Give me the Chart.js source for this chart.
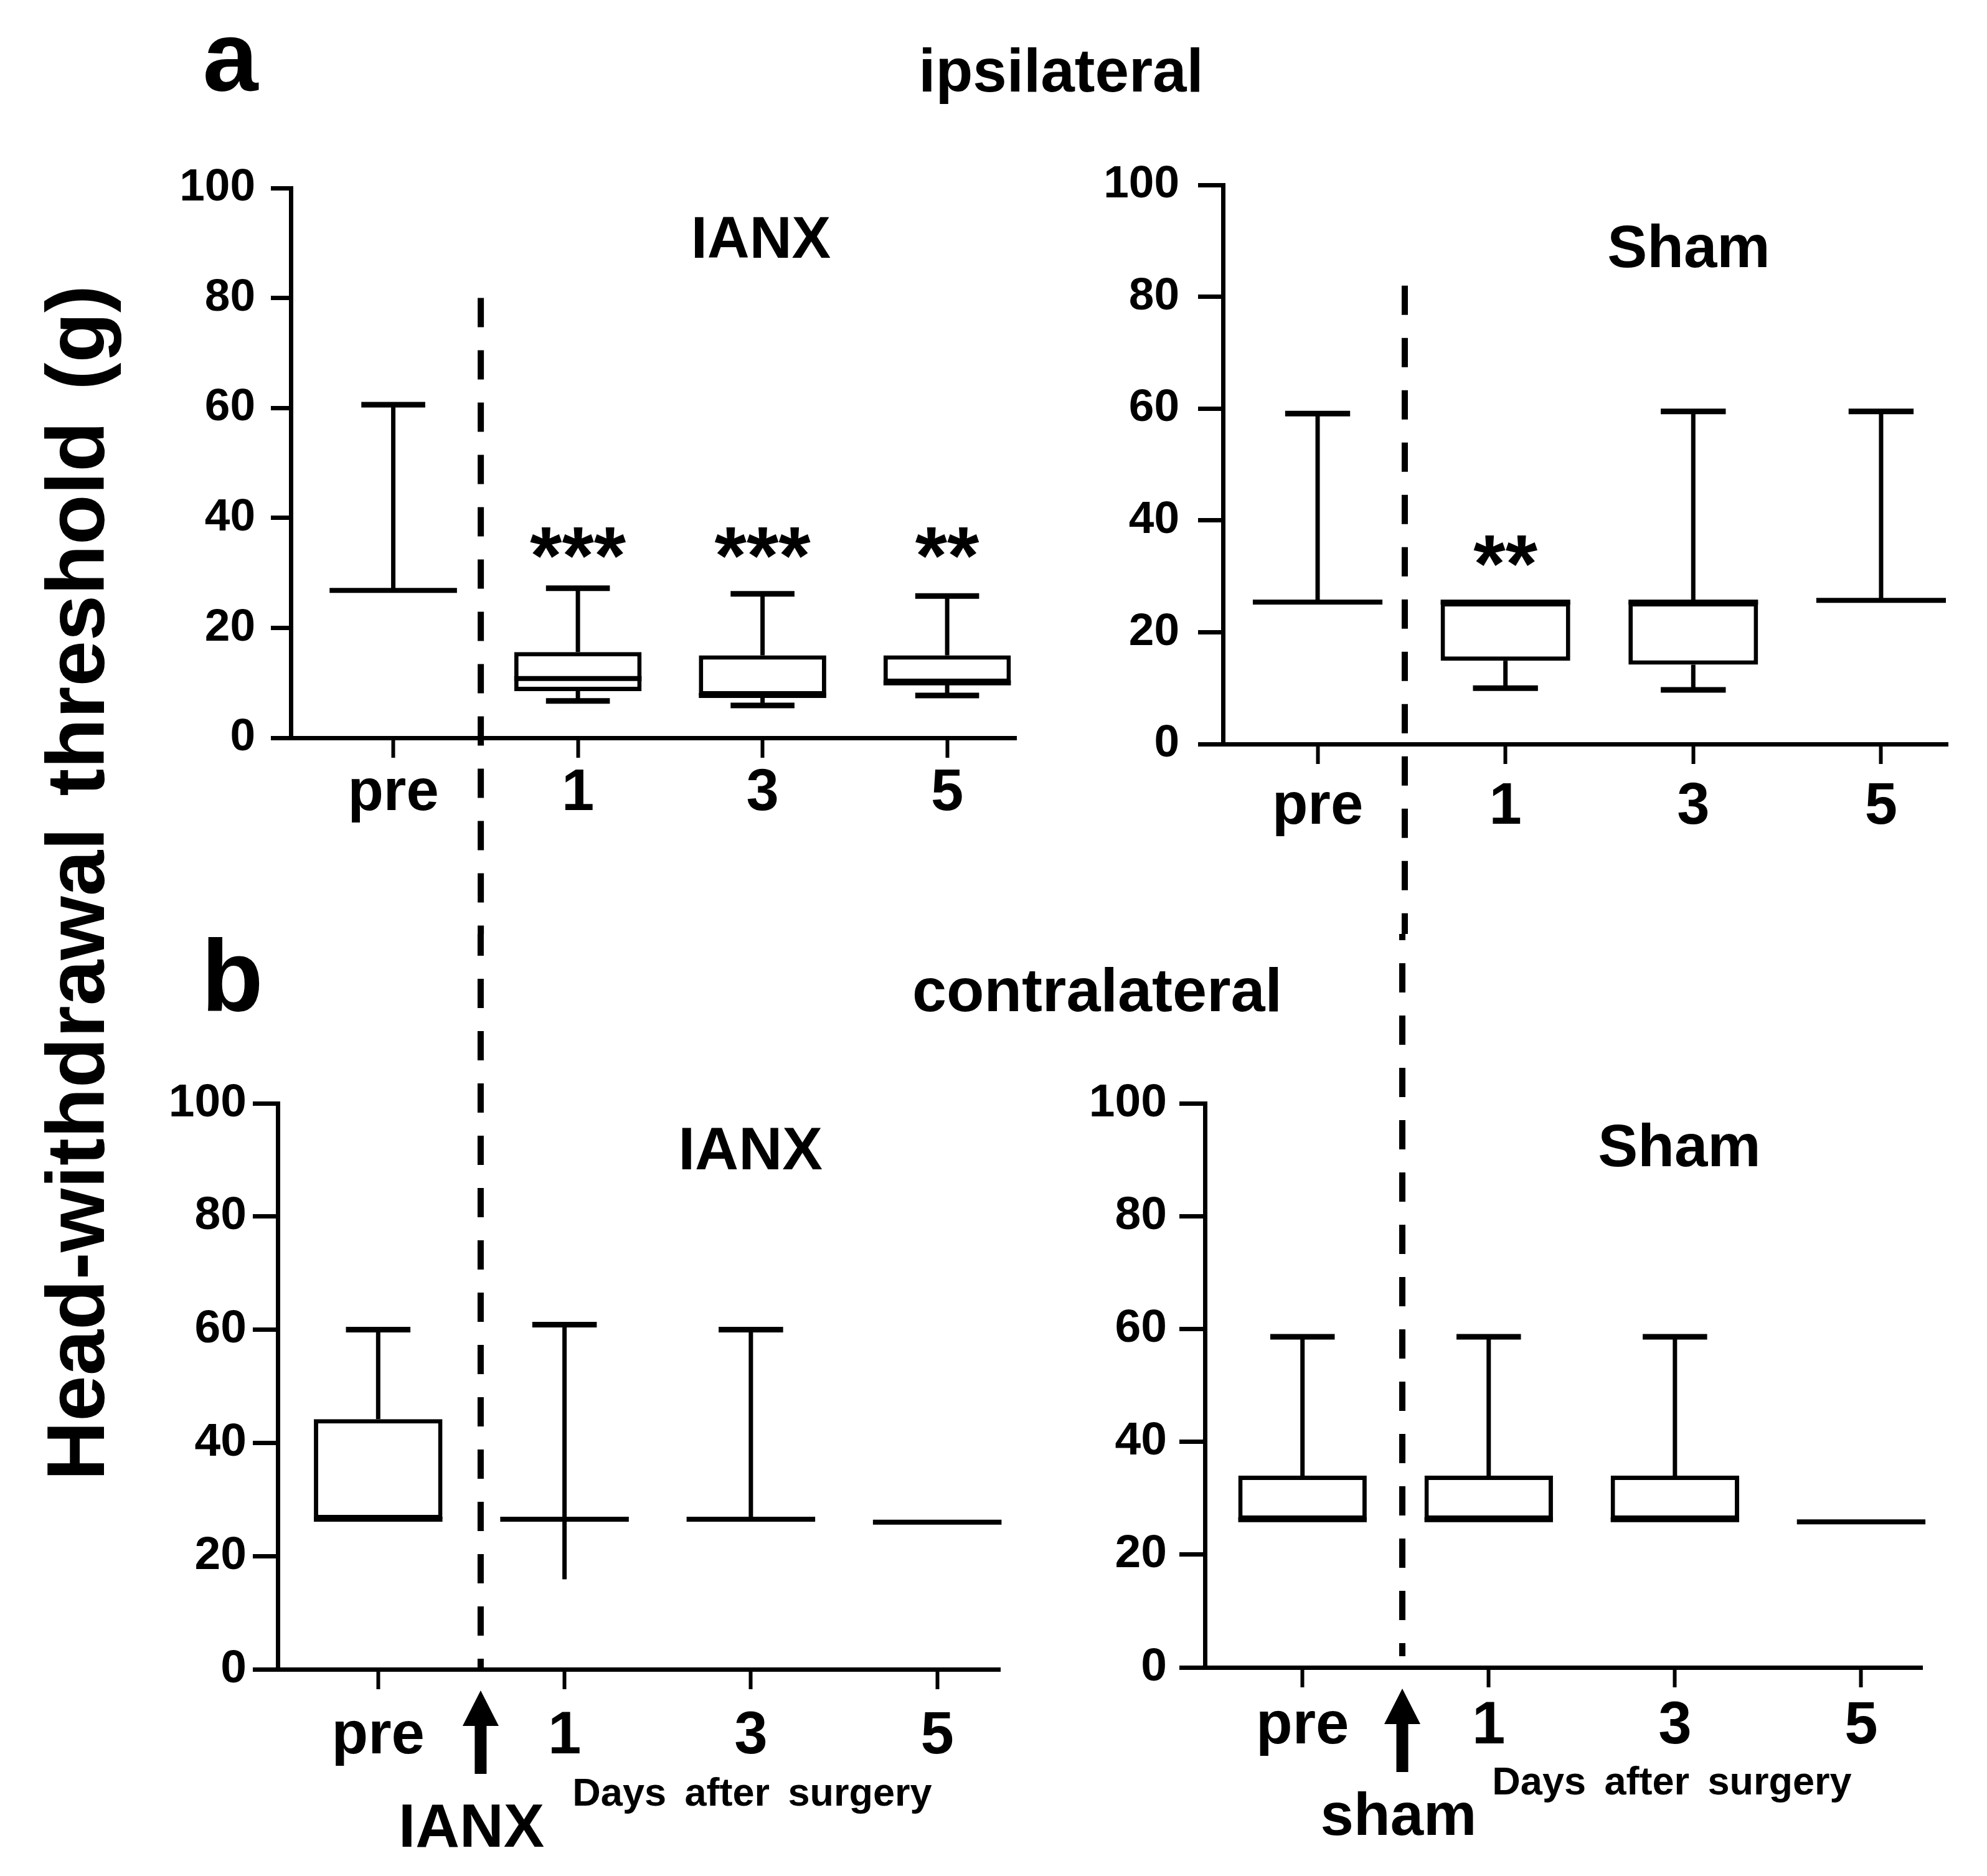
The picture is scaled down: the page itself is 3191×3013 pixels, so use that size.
<!DOCTYPE html>
<html>
<head>
<meta charset="utf-8">
<script src="https://cdn.jsdelivr.net/npm/chart.js@4.4.1/dist/chart.umd.min.js"></script>
<style>
html,body{margin:0;padding:0;background:#fff;}
#page{position:relative;width:3191px;height:3013px;overflow:hidden;background:#fff;}
#page canvas{position:absolute;}
.t{position:absolute;font-family:"Liberation Sans",Arial,Helvetica,sans-serif;font-weight:bold;color:#000;white-space:nowrap;line-height:1;text-align:center;width:2400px;}
</style>
</head>
<body>
<div id="page"></div>
<script>
// ---------------- DATA ----------------
const categories = ['pre', '1', '3', '5'];
const categoryPos = [0, 1, 2, 3];
const yTickValues = [0, 20, 40, 60, 80, 100];

// a: ipsilateral, IANX
const ipsiIanxMin    = [26.8, 6.7, 5.9, 7.7];
const ipsiIanxQ1     = [26.8, 8.5, 7.7, 10.0];
const ipsiIanxMedian = [26.8, 10.8, 7.7, 10.0];
const ipsiIanxQ3     = [26.8, 15.6, 15.0, 15.0];
const ipsiIanxMax    = [60.6, 27.2, 26.2, 25.8];
const ipsiIanxSig    = ['', '***', '***', '**'];

// a: ipsilateral, Sham
const ipsiShamMin    = [25.4, 10.0, 9.7, 25.7];
const ipsiShamQ1     = [25.4, 14.9, 14.2, 25.7];
const ipsiShamMedian = [25.4, 25.4, 25.4, 25.7];
const ipsiShamQ3     = [25.4, 25.4, 25.4, 25.7];
const ipsiShamMax    = [59.1, 25.4, 59.5, 59.5];
const ipsiShamSig    = ['', '**', '', ''];

// b: contralateral, IANX
const contraIanxMin    = [26.5, 15.9, 26.5, 26.0];
const contraIanxQ1     = [26.5, 26.5, 26.5, 26.0];
const contraIanxMedian = [26.5, 26.5, 26.5, 26.0];
const contraIanxQ3     = [44.2, 26.5, 26.5, 26.0];
const contraIanxMax    = [60.0, 60.9, 60.0, 26.0];
const contraIanxSig    = ['', '', '', ''];

// b: contralateral, Sham
const contraShamMin    = [26.2, 26.2, 26.2, 25.8];
const contraShamQ1     = [26.2, 26.2, 26.2, 25.8];
const contraShamMedian = [26.2, 26.2, 26.2, 25.8];
const contraShamQ3     = [34.0, 34.0, 34.0, 25.8];
const contraShamMax    = [58.6, 58.6, 58.6, 25.8];
const contraShamSig    = ['', '', '', ''];

// ---------------- LAYOUT / STYLE ----------------
const FONT = '"Liberation Sans", Arial, Helvetica, sans-serif';
Chart.defaults.font.family = FONT;
Chart.defaults.color = '#000';
const AXW = 215, AXH = 200;

const panels = [
  { canvas:{left:0, top:0, width:1780, height:1500}, area:{left:467, right:1632, top:302, bottom:1185},
    xMin:-0.555, xMax:3.374, yTickLen:32, yTickPad:25, xTickPad:2, yFont:73, xFont:94,
    stats:{min:ipsiIanxMin, q1:ipsiIanxQ1, med:ipsiIanxMedian, q3:ipsiIanxQ3, max:ipsiIanxMax, sig:ipsiIanxSig},
    lowerCap:[true,true,true,true], sigY:36.5,
    divider:{x:0.474, fromValue:80, toEdge:true, dashOffset:0}, arrow:false },
  { canvas:{left:1700, top:0, width:1491, height:1500}, area:{left:264, right:1428, top:297, bottom:1195},
    xMin:-0.504, xMax:3.355, yTickLen:40, yTickPad:30, xTickPad:14, yFont:73, xFont:94,
    stats:{min:ipsiShamMin, q1:ipsiShamQ1, med:ipsiShamMedian, q3:ipsiShamQ3, max:ipsiShamMax, sig:ipsiShamSig},
    lowerCap:[true,true,true,true], sigY:35.5,
    divider:{x:0.464, fromValue:82, toEdge:true, dashOffset:0}, arrow:false },
  { canvas:{left:0, top:1500, width:1780, height:1513}, area:{left:446, right:1606, top:272, bottom:1181},
    xMin:-0.539, xMax:3.337, yTickLen:40, yTickPad:10, xTickPad:19, yFont:75, xFont:96,
    stats:{min:contraIanxMin, q1:contraIanxQ1, med:contraIanxMedian, q3:contraIanxQ3, max:contraIanxMax, sig:contraIanxSig},
    lowerCap:[true,false,true,true], sigY:34,
    divider:{x:0.55, toValue:0, fromEdge:true, dashOffset:12}, arrow:true },
  { canvas:{left:1700, top:1500, width:1491, height:1513}, area:{left:235, right:1387, top:272, bottom:1178},
    xMin:-0.524, xMax:3.328, yTickLen:41, yTickPad:20, xTickPad:6, yFont:75, xFont:96,
    stats:{min:contraShamMin, q1:contraShamQ1, med:contraShamMedian, q3:contraShamQ3, max:contraShamMax, sig:contraShamSig},
    lowerCap:[true,true,true,true], sigY:34,
    divider:{x:0.536, toValue:2, fromEdge:true, dashOffset:37}, arrow:true }
];

// plugin: whiskers, caps, medians, divider, arrow, significance marks
const boxExtras = {
  id:'boxExtras',
  afterDatasetsDraw(chart, args, o) {
    const {ctx, scales:{x, y}, chartArea} = chart;
    const s = o.stats;
    const px = v => x.getPixelForValue(v);
    const py = v => y.getPixelForValue(v);
    const line = (x1, y1, x2, y2, w) => {
      ctx.lineWidth = w; ctx.beginPath(); ctx.moveTo(x1, y1); ctx.lineTo(x2, y2); ctx.stroke();
    };
    ctx.save();
    ctx.strokeStyle = '#000'; ctx.fillStyle = '#000'; ctx.lineCap = 'butt';
    const bars = chart.getDatasetMeta(0).data;
    categoryPos.forEach((c, i) => {
      const cx = px(c);
      const capHalf = px(c + o.capHalf) - cx;
      const halfBox = bars[i] ? bars[i].width / 2 : capHalf * 2;
      if (s.max[i] > s.q3[i]) {
        line(cx, py(s.q3[i]), cx, py(s.max[i]), 7);
        line(cx - capHalf, py(s.max[i]), cx + capHalf, py(s.max[i]), 9);
      }
      if (s.min[i] < s.q1[i]) {
        line(cx, py(s.q1[i]), cx, py(s.min[i]), 7);
        if (o.lowerCap[i]) line(cx - capHalf, py(s.min[i]), cx + capHalf, py(s.min[i]), 9);
      }
      line(cx - halfBox, py(s.med[i]), cx + halfBox, py(s.med[i]), 8);
    });
    // dashed divider
    const d = o.divider;
    const dx = px(d.x);
    const y1 = d.fromEdge ? 0 : py(d.fromValue);
    const y2 = d.toEdge ? chart.height : py(d.toValue);
    ctx.setLineDash([47, 37]); ctx.lineDashOffset = d.dashOffset;
    line(dx, y1, dx, y2, 10);
    ctx.setLineDash([]);
    // arrow below the axis
    if (o.arrow) {
      const tip = chartArea.bottom + 34, base = tip + 134, headH = 57, headW = 58, shaftW = 19;
      ctx.beginPath();
      ctx.moveTo(dx, tip);
      ctx.lineTo(dx + headW / 2, tip + headH);
      ctx.lineTo(dx + shaftW / 2, tip + headH);
      ctx.lineTo(dx + shaftW / 2, base);
      ctx.lineTo(dx - shaftW / 2, base);
      ctx.lineTo(dx - shaftW / 2, tip + headH);
      ctx.lineTo(dx - headW / 2, tip + headH);
      ctx.closePath(); ctx.fill();
    }
    // significance
    const fs = 132;
    ctx.font = 'bold ' + fs + 'px ' + FONT;
    ctx.textAlign = 'center'; ctx.textBaseline = 'alphabetic';
    s.sig.forEach((t, i) => { if (t) ctx.fillText(t, px(categoryPos[i]), py(o.sigY) + 0.57 * fs); });
    ctx.restore();
  }
};

const page = document.getElementById('page');

panels.forEach(p => {
  const cv = document.createElement('canvas');
  cv.width = p.canvas.width; cv.height = p.canvas.height;
  cv.style.left = p.canvas.left + 'px'; cv.style.top = p.canvas.top + 'px';
  cv.style.width = p.canvas.width + 'px'; cv.style.height = p.canvas.height + 'px';
  page.appendChild(cv);
  const s = p.stats;
  new Chart(cv, {
    type: 'bar',
    data: {
      datasets: [{
        label: 'IQR',
        data: categoryPos.map((c, i) => ({x: c, y: [s.q1[i], s.q3[i]]})),
        backgroundColor: '#fff', borderColor: '#000', borderWidth: 7, borderSkipped: false,
        categoryPercentage: 1, barPercentage: 0.69, grouped: false
      }]
    },
    options: {
      responsive: false, animation: false, devicePixelRatio: 1, events: [],
      layout: { padding: { left: p.area.left - AXW, right: p.canvas.width - p.area.right,
                           top: p.area.top, bottom: p.canvas.height - p.area.bottom - AXH } },
      plugins: {
        legend: {display: false}, tooltip: {enabled: false},
        boxExtras: { stats: s, lowerCap: p.lowerCap, capHalf: 0.173, sigY: p.sigY, divider: p.divider, arrow: p.arrow }
      },
      scales: {
        x: {
          type: 'linear', min: p.xMin, max: p.xMax, offset: false,
          afterBuildTicks: ax => { ax.ticks = categoryPos.map(v => ({value: v})); },
          afterFit: ax => { ax.height = AXH; },
          grid: {display: true, drawOnChartArea: false, drawTicks: true, tickLength: 32, tickWidth: 6, tickColor: '#000', offset: false},
          border: {display: true, color: '#000', width: 7},
          ticks: {autoSkip: false, maxRotation: 0, minRotation: 0, padding: p.xTickPad, color: '#000',
                  font: {family: FONT, size: p.xFont, weight: 'bold'},
                  callback: (v, i) => categories[i]}
        },
        y: {
          type: 'linear', min: 0, max: 100,
          afterBuildTicks: ax => { ax.ticks = yTickValues.map(v => ({value: v})); },
          afterFit: ax => { ax.width = AXW; },
          grid: {display: true, drawOnChartArea: false, drawTicks: true, tickLength: p.yTickLen, tickWidth: 7, tickColor: '#000'},
          border: {display: true, color: '#000', width: 7},
          ticks: {padding: p.yTickPad, color: '#000', font: {family: FONT, size: p.yFont, weight: 'bold'},
                  callback: v => String(v)}
        }
      }
    },
    plugins: [boxExtras]
  });
});

// ---------------- TEXT ----------------
function addText(str, cx, baseline, size, extra) {
  const d = document.createElement('div');
  d.className = 't';
  d.textContent = str;
  d.style.fontSize = size + 'px';
  d.style.left = (cx - 1200) + 'px';
  d.style.top = (baseline - 0.8465 * size) + 'px';
  if (extra) Object.assign(d.style, extra);
  page.appendChild(d);
  return d;
}
addText('a', 370, 145, 160);
addText('b', 373, 1624, 163);
addText('ipsilateral', 1704, 147, 98);
addText('contralateral', 1762, 1624, 99);
addText('IANX', 1222, 415, 94);
addText('Sham', 2712, 429, 96);
addText('IANX', 1205, 1878, 97);
addText('Sham', 2697, 1873, 96);
addText('IANX', 757, 2966, 98);
addText('sham', 2246, 2947, 96);
addText('Days after surgery', 1208, 2900, 63, {wordSpacing: '12px'});
addText('Days after surgery', 2685, 2882, 63, {wordSpacing: '12px'});

// rotated y-axis title
(function () {
  const size = 132, cx = 122, cy = 1418, w = 2400;
  const d = document.createElement('div');
  d.className = 't';
  d.textContent = 'Head-withdrawal threshold (g)';
  d.style.fontSize = size + 'px';
  d.style.wordSpacing = '14px';
  d.style.width = w + 'px';
  d.style.height = size + 'px';
  d.style.left = (cx - w / 2) + 'px';
  d.style.top = (cy - size / 2) + 'px';
  d.style.transform = 'rotate(-90deg)';
  d.style.transformOrigin = '50% 50%';
  page.appendChild(d);
})();
</script>
</body>
</html>
